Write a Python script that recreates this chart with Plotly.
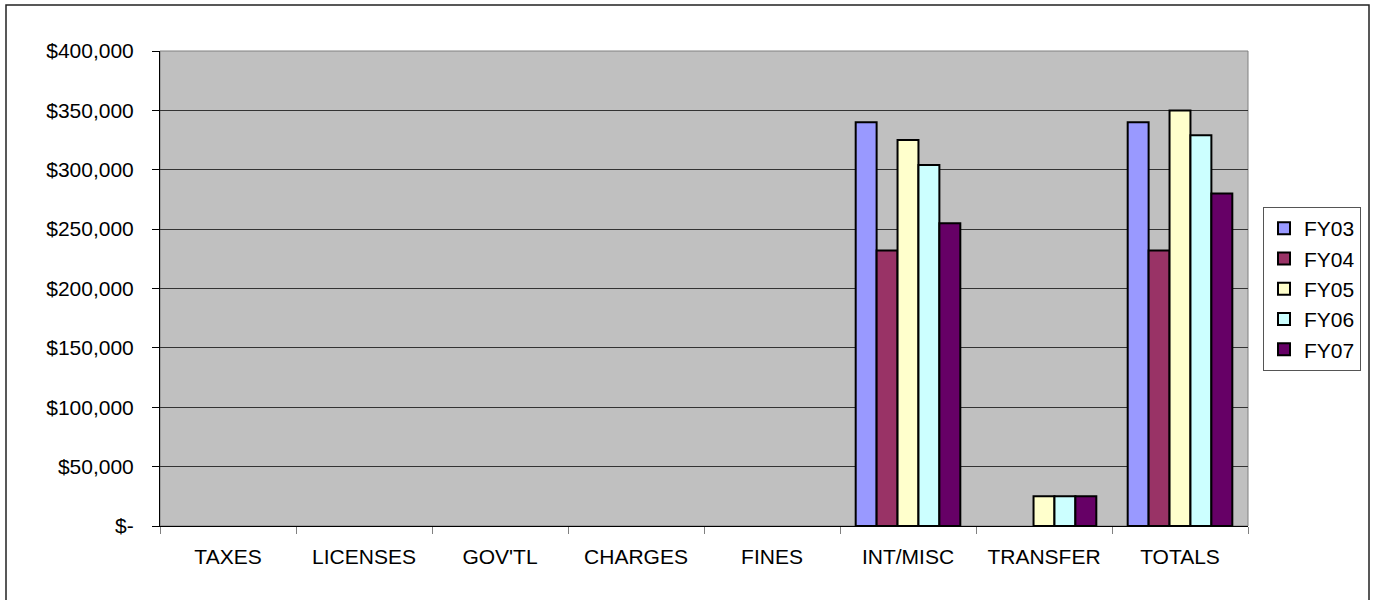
import plotly.graph_objects as go

# Revenue categories and fiscal-year series
categories = ["TAXES", "LICENSES", "GOV'TL", "CHARGES", "FINES", "INT/MISC", "TRANSFER", "TOTALS"]
fy03 = [None, None, None, None, None, 340000, None, 340000]
fy04 = [None, None, None, None, None, 232000, None, 232000]
fy05 = [None, None, None, None, None, 325000, 25000, 350000]
fy06 = [None, None, None, None, None, 304000, 25000, 329000]
fy07 = [None, None, None, None, None, 255000, 25000, 280000]

series_names = ["FY03", "FY04", "FY05", "FY06", "FY07"]
series_values = [fy03, fy04, fy05, fy06, fy07]
series_colors = ["#9999FF", "#993366", "#FFFFCC", "#CCFFFF", "#660066"]

y_tick_values = [0, 50000, 100000, 150000, 200000, 250000, 300000, 350000, 400000]
y_tick_labels = ["$-", "$50,000", "$100,000", "$150,000", "$200,000",
                 "$250,000", "$300,000", "$350,000", "$400,000"]

W, H = 1377, 600
ML, MR, MT, MB = 160, 129, 51, 74
PW = W - ML - MR
PH = H - MT - MB

FONT = "Liberation Sans, Arial, sans-serif"

fig = go.Figure()
for name, vals, col in zip(series_names, series_values, series_colors):
    fig.add_trace(go.Bar(
        name=name, x=categories, y=vals,
        marker=dict(color=col, line=dict(color="#000000", width=2)),
    ))


def px_x(px):
    return (px - ML) / PW


def px_y(py):
    return (H - MB - py) / PH


fig.update_layout(
    width=W, height=H, autosize=False,
    margin=dict(l=ML, r=MR, t=MT, b=MB, pad=0),
    paper_bgcolor="#FFFFFF",
    plot_bgcolor="#C0C0C0",
    barmode="group",
    bargap=1.5 / 6.5,
    bargroupgap=0,
    font=dict(family=FONT, size=21, color="#000000"),
    showlegend=True,
    legend=dict(
        x=px_x(1263), y=px_y(207), xanchor="left", yanchor="top",
        bgcolor="#FFFFFF", bordercolor="#555555", borderwidth=1,
        font=dict(family=FONT, size=21, color="#000000"),
        traceorder="normal",
        itemwidth=30,
    ),
    xaxis=dict(
        type="category",
        showgrid=False,
        showline=True, linecolor="#000000", linewidth=1,
        ticks="outside", ticklen=7, tickcolor="#808080", tickwidth=1,
        tickson="boundaries",
        ticklabelstandoff=12,
        tickfont=dict(family=FONT, size=21),
    ),
    yaxis=dict(
        range=[0, 400000],
        tickvals=y_tick_values, ticktext=y_tick_labels,
        showgrid=True, gridcolor="#333333", gridwidth=1,
        zeroline=False,
        showline=True, linecolor="#000000", linewidth=1,
        ticks="outside", ticklen=7, tickcolor="#000000", tickwidth=1,
        ticklabelstandoff=14,
        tickfont=dict(family=FONT, size=21),
    ),
    shapes=[
        # plot-area frame
        dict(type="rect", xref="paper", yref="paper", x0=0, x1=1, y0=0, y1=1,
             line=dict(color="#808080", width=1), layer="below"),
        # outer chart frame
        dict(type="rect", xref="paper", yref="paper",
             x0=px_x(6), x1=px_x(1369), y0=px_y(640), y1=px_y(5),
             line=dict(color="#222222", width=1.5)),
    ],
)

fig.write_html("out.html")
